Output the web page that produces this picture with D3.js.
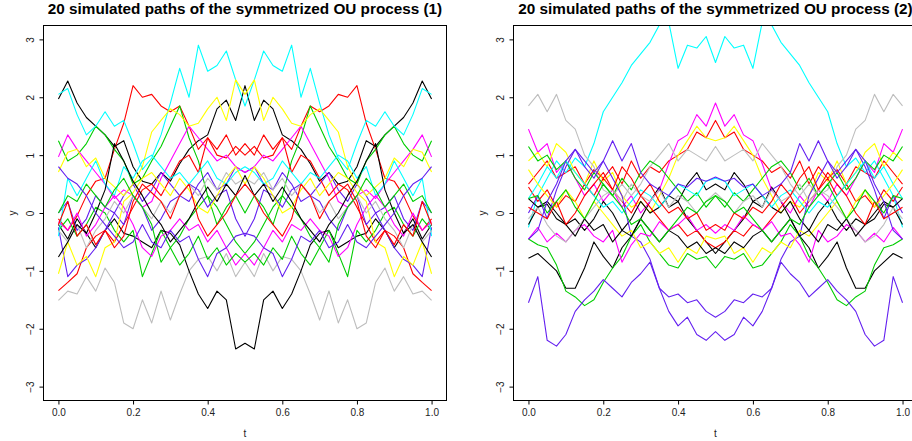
<!DOCTYPE html>
<html>
<head>
<meta charset="utf-8">
<script src="https://cdn.jsdelivr.net/npm/d3@7"></script>
<style>
  body { margin: 0; background: #fff; }
  text { font-family: "Liberation Sans", Arial, sans-serif; }
</style>
</head>
<body>
<div id="chart"></div>
<script>
// time grid, 41 points
const tGrid = [0,0.025,0.05,0.075,0.1,0.125,0.15,0.175,0.2,0.225,0.25,0.275,0.3,0.325,0.35,0.375,0.4,0.425,0.45,0.475,0.5,
  0.525,0.55,0.575,0.6,0.625,0.65,0.675,0.7,0.725,0.75,0.775,0.8,0.825,0.85,0.875,0.9,0.925,0.95,0.975,1];

const xTicks = [0, 0.2, 0.4, 0.6, 0.8, 1];
const yTicks = [-3, -2, -1, 0, 1, 2, 3];
const titles = ["20 simulated paths of the symmetrized OU process (1)",
                "20 simulated paths of the symmetrized OU process (2)"];
// R palette 1:8
const palette = ["#000000", "#ff0000", "#00cd00", "#6420f0", "#00ffff", "#ff00ff", "#ffff00", "#bebebe"];

// panel 1 paths
const paths1 = [
  [1.97,2.28,1.9,1.65,1.5,1.35,1.15,1.25,0.8,0.55,0.5,0.7,0.55,0.85,1.1,1.25,1.35,1.8,1.95,1.6,2.2,1.6,1.95,1.8,1.35,1.25,1.1,0.85,0.55,0.7,0.5,0.55,0.8,1.25,1.15,1.35,1.5,1.65,1.9,2.28,1.97],
  [-0.1,-0.3,-0.05,0.3,0.55,0.6,1.1,1.55,2.2,2.0,2.05,1.85,1.75,1.85,1.5,1.1,1.3,1.0,0.95,1.15,1.0,1.15,0.95,1.0,1.3,1.1,1.5,1.85,1.75,1.85,2.05,2.0,2.2,1.55,1.1,0.6,0.55,0.3,-0.05,-0.3,-0.1],
  [1.25,0.9,1.0,1.2,1.5,1.35,1.1,0.9,0.5,0.6,0.9,1.15,1.5,1.85,1.3,0.9,0.3,-0.2,0.1,0.3,0.0,0.3,0.1,-0.2,0.3,0.9,1.3,1.85,1.5,1.15,0.9,0.6,0.5,0.9,1.1,1.35,1.5,1.2,1.0,0.9,1.25],
  [0.0,0.2,-0.3,-0.1,0.3,0.1,0.0,0.3,0.5,0.2,0.4,0.7,0.5,0.3,0.2,0.5,0.7,0.4,0.5,0.8,0.7,0.8,0.5,0.4,0.7,0.5,0.2,0.3,0.5,0.7,0.4,0.2,0.5,0.3,0.0,0.1,0.3,-0.1,-0.3,0.2,0.0],
  [2.05,2.15,1.7,1.35,1.5,1.75,1.5,1.6,1.2,0.75,0.95,1.35,1.9,2.5,2.0,2.9,2.45,2.55,2.8,2.3,1.85,2.3,2.8,2.55,2.45,2.9,2.0,2.5,1.9,1.35,0.95,0.75,1.2,1.6,1.5,1.75,1.5,1.35,1.7,2.15,2.05],
  [0.97,1.35,1.1,0.9,0.7,0.5,0.25,0.4,0.3,0.1,0.2,0.6,0.9,1.2,1.5,1.3,1.1,0.9,1.0,0.8,0.7,0.8,1.0,0.9,1.1,1.3,1.5,1.2,0.9,0.6,0.2,0.1,0.3,0.4,0.25,0.5,0.7,0.9,1.1,1.35,0.97],
  [0.71,1.05,1.1,0.8,0.95,0.6,0.45,0.3,0.5,0.8,1.4,1.6,1.8,1.7,1.5,1.55,1.8,2.0,1.6,2.3,2.05,2.3,1.6,2.0,1.8,1.55,1.5,1.7,1.8,1.6,1.4,0.8,0.5,0.3,0.45,0.6,0.95,0.8,1.1,1.05,0.71],
  [-1.51,-1.35,-1.4,-1.1,-1.35,-0.95,-1.2,-1.9,-2.0,-1.5,-1.9,-1.35,-1.85,-1.4,-1.0,-0.8,-0.75,-1.0,-0.7,-1.1,-0.85,-1.1,-0.7,-1.0,-0.75,-0.8,-1.0,-1.4,-1.85,-1.35,-1.9,-1.5,-2.0,-1.9,-1.2,-0.95,-1.35,-1.1,-1.4,-1.35,-1.51],
  [-0.2,-0.45,-0.1,-0.35,-0.6,-0.3,-0.1,-0.35,-0.4,-0.5,-0.6,-0.3,-0.35,-0.55,-1.0,-1.4,-1.65,-1.35,-1.5,-2.35,-2.25,-2.35,-1.5,-1.35,-1.65,-1.4,-1.0,-0.55,-0.35,-0.3,-0.6,-0.5,-0.4,-0.35,-0.1,-0.3,-0.6,-0.35,-0.1,-0.45,-0.2],
  [-1.34,-1.2,-1.05,-0.6,-0.4,-0.3,-0.5,-0.2,0.1,0.4,0.5,0.3,0.6,0.9,1.0,0.7,1.3,1.1,1.35,1.0,1.2,1.0,1.35,1.1,1.3,0.7,1.0,0.9,0.6,0.3,0.5,0.4,0.1,-0.2,-0.5,-0.3,-0.4,-0.6,-1.05,-1.2,-1.34],
  [-0.3,-0.1,-0.4,-0.2,0.1,0.0,-0.3,-0.5,-0.3,-1.1,-0.7,-0.3,-0.6,-0.4,-0.1,0.1,0.3,0.1,-0.2,-0.5,-0.7,-0.5,-0.2,0.1,0.3,0.1,-0.1,-0.4,-0.6,-0.3,-0.7,-1.1,-0.3,-0.5,-0.3,0.0,0.1,-0.2,-0.4,-0.1,-0.3],
  [-0.25,-1.1,-0.9,-0.8,-0.6,-0.3,0.0,-0.2,0.3,0.1,-0.3,-0.1,0.2,0.3,0.5,0.4,0.1,0.3,0.4,-0.1,-0.4,-0.1,0.4,0.3,0.1,0.4,0.5,0.3,0.2,-0.1,-0.3,0.1,0.3,-0.2,0.0,-0.3,-0.6,-0.8,-0.9,-1.1,-0.25],
  [-0.4,0.6,0.3,0.6,0.9,0.5,0.3,0.8,0.6,0.9,1.0,0.8,0.6,0.7,0.5,0.7,0.9,0.6,0.5,0.7,0.8,0.7,0.5,0.6,0.9,0.7,0.5,0.7,0.6,0.8,1.0,0.9,0.6,0.8,0.3,0.5,0.9,0.6,0.3,0.6,-0.4],
  [-0.15,-0.3,0.0,-0.4,-0.2,0.1,0.3,0.1,-0.2,-0.6,-0.75,-0.4,-0.3,-0.1,-0.3,-0.2,-0.5,-0.3,-0.6,-0.9,-0.7,-0.9,-0.6,-0.3,-0.5,-0.2,-0.3,-0.1,-0.3,-0.4,-0.75,-0.6,-0.2,0.1,0.3,0.1,-0.2,-0.4,0.0,-0.3,-0.15],
  [-1.05,-0.5,-0.9,-0.75,-1.1,-0.6,-0.5,0.2,0.35,0.6,0.7,0.5,0.3,0.6,0.4,0.1,0.0,0.3,0.6,0.8,0.5,0.8,0.6,0.3,0.0,0.1,0.4,0.6,0.3,0.5,0.7,0.6,0.35,0.2,-0.5,-0.6,-1.1,-0.75,-0.9,-0.5,-1.05],
  [-0.3,-0.5,-0.2,-0.6,-0.3,-0.1,0.2,0.0,0.3,0.1,-0.1,0.2,0.0,0.3,0.5,0.3,0.6,0.4,0.7,0.5,0.6,0.5,0.7,0.4,0.6,0.3,0.5,0.3,0.0,0.2,-0.1,0.1,0.3,0.0,0.2,-0.1,-0.3,-0.6,-0.2,-0.5,-0.3],
  [-0.76,-0.5,-0.2,-0.35,0.0,0.4,1.2,0.9,0.55,0.3,0.0,-0.2,-0.5,-0.3,-0.1,0.2,0.45,0.2,0.5,0.3,0.65,0.3,0.5,0.2,0.45,0.2,-0.1,-0.3,-0.5,-0.2,0.0,0.3,0.55,0.9,1.2,0.4,0.0,-0.35,-0.2,-0.5,-0.76],
  [-0.2,0.2,-0.4,-0.2,-0.55,-0.3,-0.6,-0.4,0.2,0.5,0.35,0.2,-0.1,0.3,0.5,-0.1,-0.4,-0.2,0.0,0.3,0.5,0.3,0.0,-0.2,-0.4,-0.1,0.5,0.3,-0.1,0.2,0.35,0.5,0.2,-0.4,-0.6,-0.3,-0.55,-0.2,-0.4,0.2,-0.2],
  [0.0,0.3,0.2,0.5,0.3,0.1,0.4,0.6,0.3,0.1,-0.2,-0.85,-0.6,-0.9,-0.7,-0.4,-0.8,-0.6,-0.9,-0.7,-0.85,-0.7,-0.9,-0.6,-0.8,-0.4,-0.7,-0.9,-0.6,-0.85,-0.2,0.1,0.3,0.6,0.4,0.1,0.3,0.5,0.2,0.3,0.0],
  [0.8,0.6,0.5,0.3,0.0,-0.2,-0.4,-0.6,-0.5,-0.2,-0.5,-0.6,-0.3,-0.5,-0.4,-0.8,-1.1,-0.7,-0.6,-0.4,-0.35,-0.4,-0.6,-0.7,-1.1,-0.8,-0.4,-0.5,-0.3,-0.6,-0.5,-0.2,-0.5,-0.6,-0.4,-0.2,0.0,0.3,0.5,0.6,0.8]
];

// panel 2 paths
const paths2 = [
  [-0.78,-0.7,-0.85,-1.0,-1.3,-1.3,-0.95,-0.5,-0.75,-0.95,-0.6,-0.4,-0.1,0.2,0.45,0.1,0.2,-0.1,-0.3,-0.5,-0.7,-0.5,-0.3,-0.1,0.2,0.1,0.45,0.2,-0.1,-0.4,-0.6,-0.95,-0.75,-0.5,-0.95,-1.3,-1.3,-1.0,-0.85,-0.7,-0.78],
  [0.5,0.7,0.9,0.6,0.7,0.8,0.5,0.75,0.6,0.8,0.5,0.9,0.6,0.8,0.7,0.9,1.0,1.1,1.4,1.3,1.6,1.3,1.4,1.1,1.0,0.9,0.7,0.8,0.6,0.9,0.5,0.8,0.6,0.75,0.5,0.8,0.7,0.6,0.9,0.7,0.5],
  [-0.45,-0.55,-0.6,-0.9,-1.35,-1.45,-1.6,-1.5,-1.2,-0.95,-0.75,-0.4,-0.2,-0.5,-0.7,-0.9,-0.95,-0.7,-0.8,-0.75,-0.95,-0.75,-0.8,-0.7,-0.95,-0.9,-0.7,-0.5,-0.2,-0.4,-0.75,-0.95,-1.2,-1.5,-1.6,-1.45,-1.35,-0.9,-0.6,-0.55,-0.45],
  [-1.55,-1.1,-2.2,-2.3,-2.1,-1.7,-1.5,-1.35,-1.15,-1.3,-1.45,-1.2,-1.05,-0.85,-1.3,-1.45,-1.4,-1.55,-1.5,-1.7,-1.8,-1.7,-1.5,-1.55,-1.4,-1.45,-1.3,-0.85,-1.05,-1.2,-1.45,-1.3,-1.15,-1.35,-1.5,-1.7,-2.1,-2.3,-2.2,-1.1,-1.55],
  [-0.25,0.3,0.6,0.9,0.7,0.95,0.8,1.2,1.75,2.0,2.25,2.55,2.75,2.95,3.25,3.3,2.5,2.9,2.85,3.05,2.6,3.05,2.85,2.9,2.5,3.3,3.25,2.95,2.75,2.55,2.25,2.0,1.75,1.2,0.8,0.95,0.7,0.9,0.6,0.3,-0.25],
  [1.45,1.05,1.2,0.7,0.9,0.6,0.3,0.5,0.2,0.4,0.1,0.3,0.0,0.2,0.4,0.85,1.25,1.35,1.7,1.5,1.9,1.5,1.7,1.35,1.25,0.85,0.4,0.2,0.0,0.3,0.1,0.4,0.2,0.5,0.3,0.6,0.9,0.7,1.2,1.05,1.45],
  [0.9,1.05,0.8,1.2,1.05,0.7,0.5,0.9,0.55,0.7,0.3,0.1,0.2,0.0,0.3,0.6,1.0,1.25,1.5,1.3,1.25,1.3,1.5,1.25,1.0,0.6,0.3,0.0,0.2,0.1,0.3,0.7,0.55,0.9,0.5,0.7,1.05,1.2,0.8,1.05,0.9],
  [1.85,2.05,1.75,2.05,1.6,1.45,1.0,0.8,0.4,0.3,0.5,0.3,0.5,0.8,1.0,1.2,0.9,1.1,1.0,0.9,1.15,0.9,1.0,1.1,0.9,1.2,1.0,0.8,0.5,0.3,0.5,0.3,0.4,0.8,1.0,1.45,1.6,2.05,1.75,2.05,1.85],
  [-0.2,0.1,0.2,0.0,-0.2,-0.1,-0.3,-0.1,0.2,0.0,-0.3,-0.1,0.2,0.0,0.1,0.3,0.2,0.5,0.7,0.4,0.5,0.4,0.7,0.5,0.2,0.3,0.1,0.0,0.2,-0.1,-0.3,0.0,0.2,-0.1,-0.3,-0.1,-0.2,0.0,0.2,0.1,-0.2],
  [0.45,0.2,0.4,0.1,0.3,0.2,0.5,0.3,0.6,0.4,0.2,0.0,0.3,0.1,-0.1,-0.3,-0.2,-0.4,-0.3,-0.5,-0.6,-0.5,-0.3,-0.4,-0.2,-0.3,-0.1,0.1,0.3,0.0,0.2,0.4,0.6,0.3,0.5,0.2,0.3,0.1,0.4,0.2,0.45],
  [1.15,0.9,1.0,0.75,0.9,0.6,0.4,0.7,0.5,0.3,0.6,0.4,0.7,0.9,0.8,0.6,0.4,0.2,0.35,0.1,0.3,0.1,0.35,0.2,0.4,0.6,0.8,0.9,0.7,0.4,0.6,0.3,0.5,0.7,0.4,0.6,0.9,0.75,1.0,0.9,1.15],
  [0.0,0.3,-0.1,0.4,0.8,1.1,0.9,0.7,0.9,0.6,0.3,-0.4,-0.5,-0.8,-1.3,-1.7,-1.95,-1.8,-2.1,-2.2,-2.05,-2.2,-2.1,-1.8,-1.95,-1.7,-1.3,-0.8,-0.5,-0.4,0.3,0.6,0.9,0.7,0.9,1.1,0.8,0.4,-0.1,0.3,0.0],
  [0.25,0.5,0.8,0.6,0.9,0.7,0.5,0.3,0.1,0.2,0.0,0.2,0.4,0.3,0.1,0.3,0.5,0.4,0.3,0.55,0.6,0.55,0.3,0.4,0.5,0.3,0.1,0.3,0.4,0.2,0.0,0.2,0.1,0.3,0.5,0.7,0.9,0.6,0.8,0.5,0.25],
  [-0.45,-0.25,-0.5,-0.35,-0.5,-0.3,-0.2,-0.4,-0.5,-0.3,-0.85,-0.55,-0.35,-0.4,-0.15,-0.3,-0.2,-0.05,-0.3,-0.2,-0.35,-0.2,-0.3,-0.05,-0.2,-0.3,-0.15,-0.4,-0.35,-0.55,-0.85,-0.3,-0.5,-0.4,-0.2,-0.3,-0.5,-0.35,-0.5,-0.25,-0.45],
  [0.75,0.5,0.3,0.1,0.4,0.2,-0.1,0.2,0.0,-0.2,-0.4,-0.3,-0.6,-0.5,-0.7,-0.6,-0.85,-0.6,-0.7,-0.4,-0.45,-0.4,-0.7,-0.6,-0.85,-0.6,-0.7,-0.5,-0.6,-0.3,-0.4,-0.2,0.0,0.2,-0.1,0.2,0.4,0.1,0.3,0.5,0.75],
  [-0.1,0.1,-0.2,-0.4,-0.5,-0.3,-0.1,0.1,0.3,0.4,0.2,0.5,0.3,0.2,0.4,0.1,0.3,0.2,0.0,0.2,0.35,0.2,0.0,0.2,0.3,0.1,0.4,0.2,0.3,0.5,0.2,0.4,0.3,0.1,-0.1,-0.3,-0.5,-0.4,-0.2,0.1,-0.1],
  [0.25,0.1,0.15,-0.1,-0.2,-0.4,-0.1,-0.3,-0.2,-0.5,-0.3,-0.4,-0.1,-0.3,-0.5,-0.3,-0.4,-0.6,-0.5,-0.7,-0.6,-0.7,-0.5,-0.6,-0.4,-0.3,-0.5,-0.3,-0.1,-0.4,-0.3,-0.5,-0.2,-0.3,-0.1,-0.4,-0.2,-0.1,0.15,0.1,0.25],
  [0.1,0.0,-0.1,0.2,-0.2,0.0,0.3,0.5,0.7,0.4,0.8,0.6,0.3,0.5,0.2,0.0,0.1,-0.1,0.0,-0.3,-0.2,-0.3,0.0,-0.1,0.1,0.0,0.2,0.5,0.3,0.6,0.8,0.4,0.7,0.5,0.3,0.0,-0.2,0.2,-0.1,0.0,0.1],
  [0.25,0.3,0.0,0.2,0.4,0.1,-0.1,0.2,0.5,0.3,0.1,-0.2,-0.1,-0.3,-0.5,-0.3,-0.1,0.1,0.0,0.2,0.3,0.2,0.0,0.1,-0.1,-0.3,-0.5,-0.3,-0.1,-0.2,0.1,0.3,0.5,0.2,-0.1,0.1,0.4,0.2,0.0,0.3,0.25],
  [-0.45,-0.3,0.2,0.5,0.9,1.1,0.8,0.6,0.9,1.25,0.9,1.2,0.7,0.5,0.4,0.3,0.5,0.45,0.6,0.55,0.62,0.55,0.6,0.45,0.5,0.3,0.4,0.5,0.7,1.2,0.9,1.25,0.9,0.6,0.8,1.1,0.9,0.5,0.2,-0.3,-0.45]
];

let svg = d3.select("#chart")
    .append("svg")
    .attr("width", 912)
    .attr("height", 441)
    .style("display", "block")
    .style("background", "#fff");

// plot boxes, pixel edges of each panel
let panels = [
  {left: 43.5, right: 446.5, paths: paths1, title: titles[0]},
  {left: 513.5, right: 917.5, paths: paths2, title: titles[1]}
];
let plotTop = 25.5, plotBottom = 400.5;

let y = d3.scaleLinear().domain([-3.24, 3.24]).range([plotBottom, plotTop]);

panels.forEach(function(p, i) {
    let x = d3.scaleLinear().domain([-0.04, 1.04]).range([p.left, p.right]);
    let g = svg.append("g");

    g.append("clipPath")
        .attr("id", "clip" + i)
        .append("rect")
        .attr("x", p.left)
        .attr("y", plotTop)
        .attr("width", p.right - p.left)
        .attr("height", plotBottom - plotTop);

    let line = d3.line()
        .x(function(d, j) { return x(tGrid[j]); })
        .y(function(d) { return y(d); });

    g.append("g")
        .attr("clip-path", "url(#clip" + i + ")")
        .selectAll("path")
        .data(p.paths)
        .enter().append("path")
        .attr("d", line)
        .attr("fill", "none")
        .attr("stroke", function(d, j) { return palette[j % 8]; })
        .attr("stroke-width", 1.1)
        .attr("stroke-linejoin", "round");

    // box
    g.append("rect")
        .attr("x", p.left)
        .attr("y", plotTop)
        .attr("width", p.right - p.left)
        .attr("height", plotBottom - plotTop)
        .attr("fill", "none")
        .attr("stroke", "#000")
        .attr("stroke-width", 1);

    // x axis
    let xAxis = g.append("g")
        .attr("transform", "translate(0," + plotBottom + ")")
        .call(d3.axisBottom(x).tickValues(xTicks).tickFormat(d3.format(".1f")).tickSize(4).tickSizeOuter(0));
    xAxis.select(".domain").remove();
    xAxis.selectAll("line").attr("stroke", "#000");
    xAxis.selectAll("text")
        .attr("y", 8)
        .attr("fill", "#222")
        .style("font-size", "10px")
        .style("font-family", "Liberation Sans, Arial, sans-serif");

    // y axis, labels parallel to axis
    let yAxis = g.append("g")
        .attr("transform", "translate(" + p.left + ",0)")
        .call(d3.axisLeft(y).tickValues(yTicks).tickSize(4).tickSizeOuter(0).tickFormat(function(d) { return d < 0 ? "\u2212" + Math.abs(d) : d; }));
    yAxis.select(".domain").remove();
    yAxis.selectAll("line").attr("stroke", "#000");
    yAxis.selectAll("text")
        .attr("x", null)
        .attr("dy", null)
        .attr("transform", "translate(-9.5,0) rotate(-90)")
        .attr("text-anchor", "middle")
        .attr("fill", "#222")
        .style("font-size", "10px")
        .style("font-family", "Liberation Sans, Arial, sans-serif");

    let cx = (p.left + p.right) / 2;

    g.append("text")
        .attr("x", cx)
        .attr("y", 13.5)
        .attr("text-anchor", "middle")
        .style("font-size", "15.3px")
        .style("font-weight", "bold")
        .text(p.title);

    g.append("text")
        .attr("x", cx)
        .attr("y", 437)
        .attr("text-anchor", "middle")
        .style("font-size", "10px")
        .attr("fill", "#222")
        .text("t");

    g.append("text")
        .attr("transform", "translate(" + (p.left - 28) + "," + y(0) + ") rotate(-90)")
        .attr("text-anchor", "middle")
        .style("font-size", "10px")
        .attr("fill", "#222")
        .text("y");
});
</script>
</body>
</html>
